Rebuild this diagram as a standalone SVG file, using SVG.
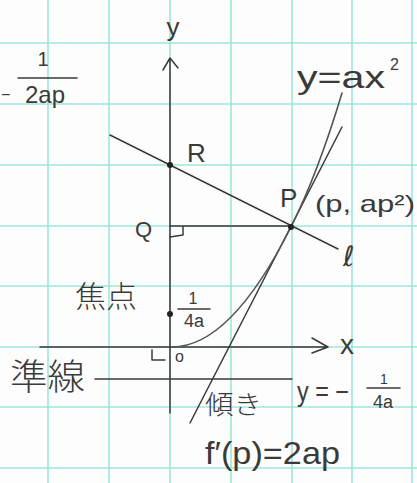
<svg xmlns="http://www.w3.org/2000/svg" width="417" height="483" viewBox="0 0 417 483">
<style>
.grid{stroke:#9fe6da;stroke-width:1.6;fill:none}
.ln{stroke:#3a3a3a;stroke-width:1.5;fill:none;stroke-linecap:round;stroke-linejoin:round}
.crv{stroke:#555;stroke-width:1.6;fill:none;stroke-linecap:round}
.t{font-family:"Liberation Sans","Noto Sans CJK JP",sans-serif;fill:#3a3a3a}
.j{font-family:"Noto Sans CJK JP",sans-serif;fill:#3a3a3a;font-weight:300}
.dot{fill:#222}
</style>
<rect width="417" height="483" fill="#fdfdfd"/>
<g id="grid" class="grid">
<path d="M48 0V483M109 0V483M231 0V483M292 0V483M352 0V483M412 0V483M170 0V483"/>
<path d="M0 43H417M0 104H417M0 165H417M0 226H417M0 286H417M0 347H417M0 407H417M0 468H417"/>
</g>
<g id="axes" class="ln">
<path d="M170 413V58M163 70L170 58L178 68"/>
<path d="M40 347H328M312 338L328 347L312 353"/>
</g>
<g id="connectors">
<path id="directrix" class="ln" d="M95 379H292"/>
<path id="normal" class="ln" d="M110 135L338 249"/>
<path id="QP" class="ln" d="M170 226H291"/>
<path id="tangent" class="ln" d="M190 423L342 127"/>
<path id="parabola" class="crv" d="M172 347Q230.5 347 291 227Q318 173 342 93"/>
<path id="rightQ" class="ln" d="M170 237L183 235L183 227"/>
<path id="rightO" class="ln" d="M152 350L152 360L165 360"/>
<path id="bar1" class="ln" d="M18 78H77"/>
<path id="bar2" class="ln" d="M178 309H210"/>
<path id="bar3" class="ln" d="M367 388H400"/>
</g>
<g id="node-R"><circle class="dot" cx="170" cy="165" r="3"/><text class="t" x="187" y="162" font-size="26">R</text></g>
<g id="node-P"><circle class="dot" cx="291" cy="227" r="3"/><text class="t" x="280" y="207" font-size="26">P</text>
<text class="t" x="315" y="212" font-size="24" textLength="100" lengthAdjust="spacingAndGlyphs">(p, ap²)</text></g>
<g id="node-Q"><text class="t" x="135" y="237" font-size="22">Q</text></g>
<g id="node-F"><circle class="dot" cx="170" cy="314" r="3"/>
<text class="t" x="193" y="304" font-size="16" text-anchor="middle">1</text>
<text class="t" x="194" y="327" font-size="18" text-anchor="middle">4a</text>
<text class="j" x="75" y="307" font-size="30" textLength="62" lengthAdjust="spacingAndGlyphs">焦点</text></g>
<g id="node-O"><text class="t" x="175" y="362" font-size="16">o</text></g>
<g id="label-slope"><text class="t" x="1" y="100" font-size="16">−</text>
<text class="t" x="43" y="66" font-size="20" text-anchor="middle">1</text>
<text class="t" x="45" y="103" font-size="24" text-anchor="middle">2ap</text></g>
<g id="label-axes"><text class="t" x="173" y="36" font-size="26" text-anchor="middle">y</text>
<text class="t" x="340" y="354" font-size="28">x</text></g>
<g id="label-curve"><text class="t" x="297" y="88" font-size="32" textLength="88" lengthAdjust="spacingAndGlyphs">y=ax</text>
<text class="t" x="390" y="70" font-size="16">2</text></g>
<g id="label-l"><text x="343" y="266" font-size="28" font-family="DejaVu Sans,sans-serif" fill="#3a3a3a">ℓ</text></g>
<g id="label-directrix"><text class="j" x="10" y="390" font-size="36" textLength="75" lengthAdjust="spacingAndGlyphs">準線</text>
<text class="t" x="297" y="401" font-size="28" textLength="52" lengthAdjust="spacingAndGlyphs">y = −</text>
<text class="t" x="384" y="384" font-size="14" text-anchor="middle">1</text>
<text class="t" x="383" y="408" font-size="18" text-anchor="middle">4a</text></g>
<g id="label-tangent"><text class="j" x="205" y="414" font-size="26" textLength="57" lengthAdjust="spacingAndGlyphs">傾き</text>
<text class="t" x="205" y="464" font-size="32" textLength="135" lengthAdjust="spacingAndGlyphs">f′(p)=2ap</text></g>
</svg>
